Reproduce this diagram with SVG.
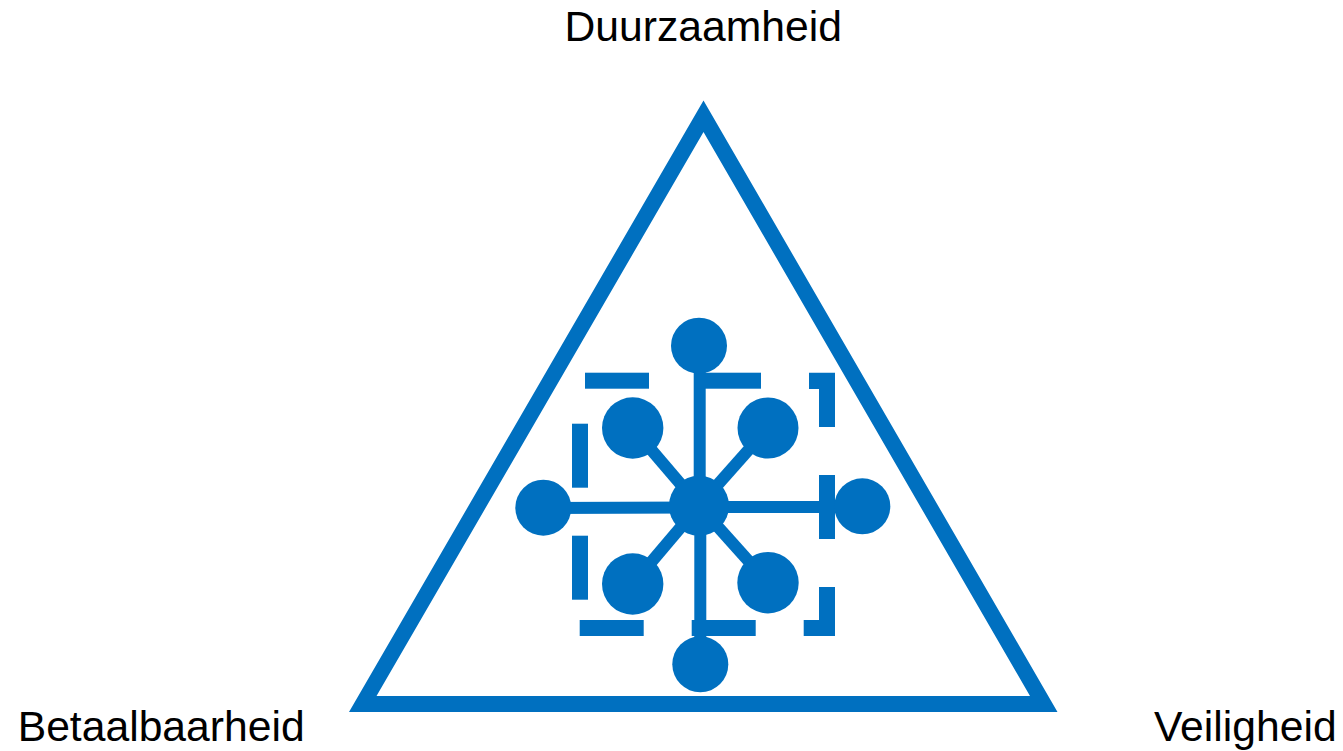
<svg xmlns="http://www.w3.org/2000/svg" width="1343" height="751" viewBox="0 0 1343 751">
<style>
.b{fill:#0070c0}
.c{stroke:#0070c0;stroke-width:12;fill:none}
text{font-family:"Liberation Sans",Arial,sans-serif;font-size:42.67px;fill:#000}
</style>
<rect width="1343" height="751" fill="#fff"/>
<g id="triangle"><path class="b" fill-rule="evenodd" d="M703.5 100.5L1057.5 712H349ZM703.5 132L376.5 696H1030Z"/></g>
<g id="connectors">
<path class="c" d="M699.7 346V506"/>
<path class="c" d="M700.3 506V664"/>
<path class="c" d="M543 508L699 507.5"/>
<path class="c" d="M699 507L862 507"/>
<path class="c" d="M632.7 428L699 505.7"/>
<path class="c" d="M768 428L699 505.7"/>
<path class="c" d="M632.7 584L699 505.7"/>
<path class="c" d="M768 582.7L699 505.7"/>
</g>
<g id="brackets">
<rect class="b" x="585" y="372.7" width="64" height="16"/>
<rect class="b" x="697" y="372.7" width="64" height="16"/>
<path class="b" d="M809 372.7H835V427H819V389H809Z"/>
<rect class="b" x="572" y="423.7" width="16" height="64"/>
<rect class="b" x="819" y="475" width="16" height="64"/>
<rect class="b" x="572" y="535.7" width="16" height="64"/>
<rect class="b" x="579.7" y="620" width="64" height="16"/>
<rect class="b" x="691.7" y="620" width="64" height="16"/>
<path class="b" d="M819 587H835V636H803.7V620H819Z"/>
</g>
<g id="hub"><circle class="b" cx="699" cy="505.7" r="30"/></g>
<g id="node-top"><circle class="b" cx="699" cy="345.7" r="28"/></g>
<g id="node-bottom"><circle class="b" cx="700.3" cy="664.3" r="28"/></g>
<g id="node-left"><circle class="b" cx="543.3" cy="507.7" r="28"/></g>
<g id="node-right"><circle class="b" cx="862.3" cy="506.3" r="28"/></g>
<g id="node-top-left"><circle class="b" cx="632.7" cy="428" r="30.7"/></g>
<g id="node-top-right"><circle class="b" cx="768" cy="428" r="30.5"/></g>
<g id="node-bottom-left"><circle class="b" cx="632.7" cy="584" r="30.7"/></g>
<g id="node-bottom-right"><circle class="b" cx="768" cy="582.7" r="30.7"/></g>
<g id="label-top"><text x="564.5" y="41">Duurzaamheid</text></g>
<g id="label-left"><text x="17.7" y="741">Betaalbaarheid</text></g>
<g id="label-right"><text x="1154" y="741">Veiligheid</text></g>
</svg>
